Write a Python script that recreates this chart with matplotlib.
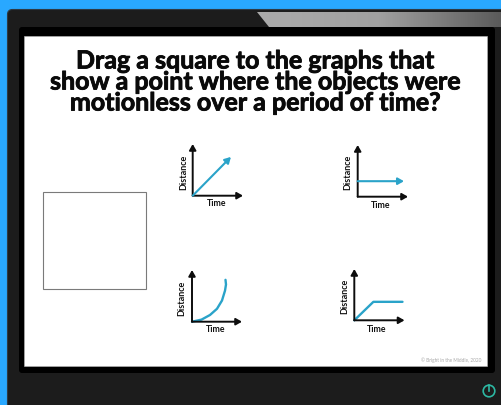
import numpy as np
import matplotlib
matplotlib.use("Agg")
import matplotlib.pyplot as plt
from matplotlib.patches import FancyBboxPatch, Rectangle, Polygon, Circle
import matplotlib.patheffects as pe

W, H = 502, 405
title_lines = ["Drag a square to the graphs that",
               "show a point where the objects were",
               "motionless over a period of time?"]
x_label = "Time"
y_label = "Distance"
credit = "© Bright in the Middle, 2020"

t1 = [0, 76]
d1 = [0, 75]
t2 = [0, 92]
d2 = [30, 30]
t3 = [0, 19, 36, 50, 60, 66, 68, 67]
d3 = [0, 4, 13, 25, 41, 60, 72, 81]
t4 = [0, 38, 96]
d4 = [0, 36, 36]

BLUE = "#29A8FF"
DARK = "#1C1C1C"
LINE = "#2AA3C9"
TXT = "#111111"

fig = plt.figure(figsize=(W / 100, H / 100), dpi=100, facecolor=BLUE)
bg = fig.add_axes([0, 0, 1, 1])
bg.axis("off")

bg.add_patch(FancyBboxPatch((11, 13), W + 30, H + 30,
                            boxstyle="round,pad=3.5,rounding_size=5",
                            fc=DARK, ec="#2E3A44", lw=0.8, zorder=0.5))
wedge = Polygon([(257, 12), (W, 12), (W, 27), (269, 27)], closed=True,
                fc="none", ec="none", zorder=0.6)
bg.add_patch(wedge)
grad = np.linspace(0, 1, 256).reshape(1, -1)
im = bg.imshow(grad, extent=(257, W, 27, 12), aspect="auto", zorder=0.7,
               cmap=matplotlib.colors.LinearSegmentedColormap.from_list(
                   "g", ["#ABABAB", "#A0A0A0", "#5A5A5A"]))
im.set_clip_path(wedge)
bg.set_xlim(0, W)
bg.set_ylim(H, 0)

bg.add_patch(FancyBboxPatch((21, 29), 472, 342,
                            boxstyle="round,pad=2,rounding_size=3",
                            fc="#000000", ec="none"))
bg.add_patch(Rectangle((24, 36), 463, 330, fc="white", ec="#BBBBBB", lw=0.4))
bg.add_patch(Rectangle((43, 192), 103, 97, fc="white", ec="#7A7A7A", lw=0.8))

for y, line in zip([61, 82, 103], title_lines):
    bg.text(255.5, y, line, ha="center", va="center", fontsize=18,
            family="Lato", weight="bold", color="#0A0A0A",
            path_effects=[pe.withStroke(linewidth=0.6, foreground="#0A0A0A")])

bg.text(481, 360, credit, ha="right", va="center", fontsize=3.4,
        family="Lato", color="#A8A8A8")

# Power icon
bg.add_patch(Circle((489, 391), 5.8, fc="none", ec="#2DB8A3", lw=1.2))
bg.plot([489, 489], [384.5, 391], color="#2DB8A3", lw=1.2)


def graph(ox, oy, right, top, xs, ys, arrow, tx, ty, lx, ly):
    ax = fig.add_axes([ox / W, 1 - oy / H, (right - ox) / W, (oy - top) / H])
    ax.set_xlim(0, 100)
    ax.set_ylim(0, 100)
    ax.axis("off")
    ax.patch.set_alpha(0)
    head = dict(arrowstyle="-|>,head_length=0.35,head_width=0.2",
                shrinkA=0, shrinkB=0, color="#0D0D0D", lw=1.4, mutation_scale=10)
    ax.annotate("", xy=(1, 0), xytext=(0, 0), xycoords="axes fraction", arrowprops=head)
    ax.annotate("", xy=(0, 1), xytext=(0, 0), xycoords="axes fraction", arrowprops=head)
    if arrow:
        ax.annotate("", xy=(xs[-1], ys[-1]), xytext=(xs[0], ys[0]),
                    arrowprops=dict(arrowstyle="-|>,head_length=0.35,head_width=0.2",
                                    shrinkA=0, shrinkB=0, color=LINE, lw=1.5,
                                    mutation_scale=10))
    else:
        ax.plot(xs, ys, color=LINE, lw=1.7, clip_on=False, solid_capstyle="round")
    bg.text(tx, ty, x_label, ha="center", va="center", fontsize=6.3,
            family="Lato", weight="bold", color=TXT)
    bg.text(lx, ly, y_label, ha="center", va="center", rotation=90, fontsize=6.5,
            family="Lato", weight="bold", color=TXT)


graph(192.7, 195.7, 243, 144, t1, d1, True, 216.5, 204, 183.5, 172)
graph(357.7, 196.7, 408, 145, t2, d2, True, 381, 205, 348, 172)
graph(192, 321.7, 242, 270, t3, d3, False, 215.5, 330, 182, 298)
graph(354.3, 320.3, 404.5, 269, t4, d4, False, 377, 329, 345, 296)

fig.savefig("out.png", dpi=100, facecolor=BLUE)
